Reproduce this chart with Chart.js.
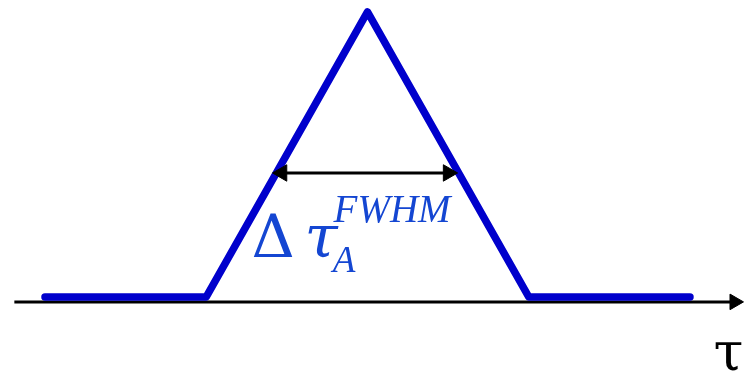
<!DOCTYPE html>
<html>
<head>
<meta charset="utf-8">
<script src="https://cdn.jsdelivr.net/npm/chart.js@4"></script>
<style>
  body { margin: 0; background: #fff; }
  #wrap { width: 744px; height: 371px; }
</style>
</head>
<body>
<div id="wrap"><canvas id="pulse"></canvas></div>
<script>
/* pulso triangular (unidades: semiancho = 1, pico = 1) */
const pulseTau = [-2, -1, 0, 1, 2];
const pulseVal = [0, 0, 1, 0, 0];

/* eje tau y flecha de ancho a media altura */
const axisTau = [-2.19, 2.276];
const axisVal = -0.0175;
const fwhmTau = [-0.53, 0.5];
const fwhmVal = 0.435;

/* textos: [texto, tau, valor, fuente, color] */
const labels = [
  ['\u0394', -0.719, 0.14, '60px "DejaVu Serif"', '#1446d2'],
  ['\u03c4', -0.391, 0.14, 'italic 60px "DejaVu Serif"', '#1446d2'],
  ['FWHM', -0.21, 0.263, 'italic 39px "Liberation Serif"', '#1446d2'],
  ['A', -0.215, 0.088, 'italic 37px "Liberation Serif"', '#1446d2'],
  ['\u03c4', 2.146, -0.256, '54px "DejaVu Serif"', '#000']
];

const toPoints = (xs, ys) => xs.map((x, i) => ({ x: x, y: Array.isArray(ys) ? ys[i] : ys }));

/* plugin que escribe los textos en coordenadas de datos */
const textPlugin = {
  id: 'texts',
  afterDatasetsDraw(chart) {
    const ctx = chart.ctx;
    const sx = chart.scales.x, sy = chart.scales.y;
    ctx.save();
    ctx.textBaseline = 'alphabetic';
    ctx.textAlign = 'left';
    labels.forEach(l => {
      ctx.font = l[3];
      ctx.fillStyle = l[4];
      ctx.fillText(l[0], sx.getPixelForValue(l[1]), sy.getPixelForValue(l[2]));
    });
    ctx.restore();
  }
};

const ctx = document.getElementById('pulse');

new Chart(ctx, {
  type: 'line',
  data: {
    datasets: [
      {
        data: toPoints(pulseTau, pulseVal),
        borderColor: '#0000cc',
        borderWidth: 7.5,
        borderCapStyle: 'round',
        borderJoinStyle: 'round',
        pointRadius: 0,
        tension: 0,
        clip: false,
        order: 1
      },
      {
        data: toPoints(axisTau, axisVal),
        borderColor: '#000',
        borderWidth: 3,
        pointStyle: 'triangle',
        pointRadius: [0, 9],
        pointRotation: 90,
        pointBackgroundColor: '#000',
        pointBorderColor: '#000',
        pointBorderWidth: 1,
        clip: false,
        order: 2
      },
      {
        data: toPoints(fwhmTau, fwhmVal),
        borderColor: '#000',
        borderWidth: 3,
        pointStyle: 'triangle',
        pointRadius: 9.5,
        pointRotation: [270, 90],
        pointBackgroundColor: '#000',
        pointBorderColor: '#000',
        pointBorderWidth: 1,
        clip: false,
        order: 0
      }
    ]
  },
  options: {
    responsive: true,
    maintainAspectRatio: false,
    devicePixelRatio: 1,
    animation: false,
    layout: { padding: 0, autoPadding: false },
    plugins: {
      legend: { display: false },
      tooltip: { enabled: false }
    },
    scales: {
      x: { type: 'linear', min: -2.279, max: 2.335, display: false },
      y: { type: 'linear', min: -0.26, max: 1.042, display: false }
    }
  },
  plugins: [textPlugin]
});
</script>
</body>
</html>
